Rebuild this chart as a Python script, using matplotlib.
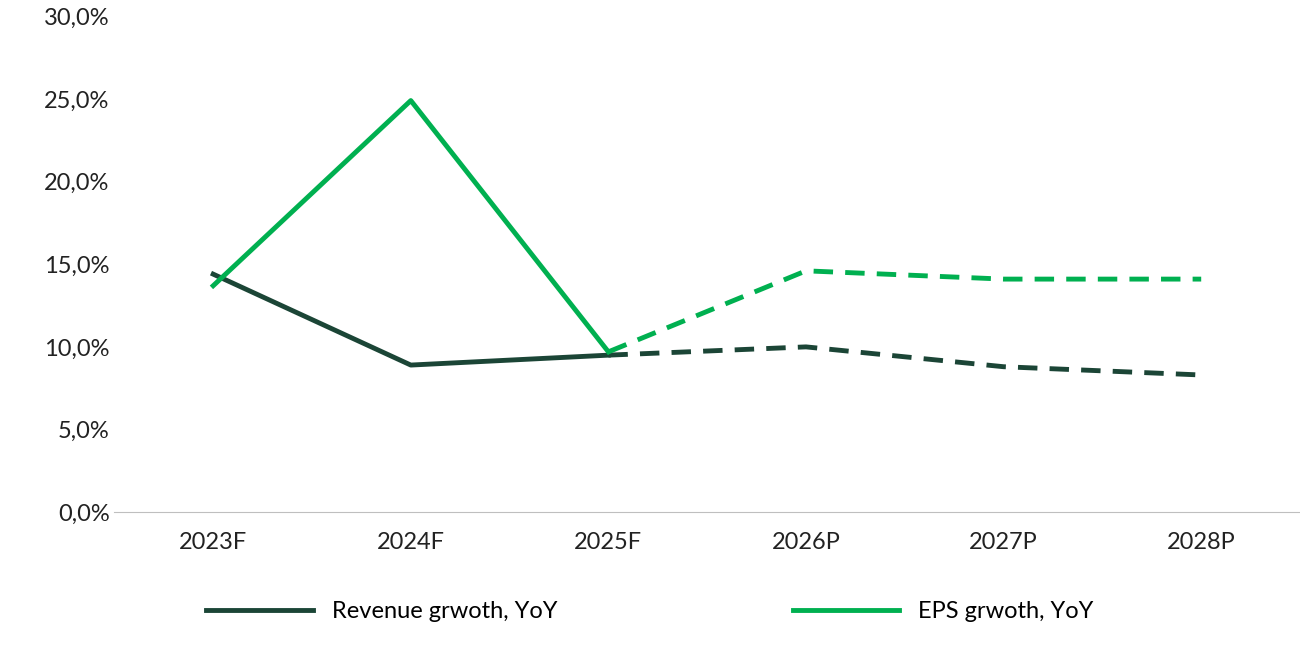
import matplotlib.pyplot as plt
from matplotlib.ticker import FuncFormatter

years = ["2023F", "2024F", "2025F", "2026P", "2027P", "2028P"]
revenue = [14.4, 8.9, 9.5, 10.0, 8.8, 8.3]
eps = [13.7, 24.9, 9.7, 14.6, 14.1, 14.1]

dark = "#1b4536"
green = "#00b050"

plt.rcParams['font.family'] = ['Lato', 'DejaVu Sans']
fig = plt.figure(figsize=(13, 6.5), dpi=100)
ax = fig.add_axes([0.088, 0.212, 0.912, 0.763])
x = list(range(len(years)))

# actual (solid) up to 2025F, then projection (dashed)
ax.plot(x[:3], revenue[:3], color=dark, lw=3.5, label="Revenue grwoth, YoY")
ax.plot(x[2:], revenue[2:], color=dark, lw=3.5, ls=(0, (4, 2.5)))
ax.plot(x[:3], eps[:3], color=green, lw=3.5, label="EPS grwoth, YoY")
ax.plot(x[2:], eps[2:], color=green, lw=3.5, ls=(0, (4, 2.5)))

ax.set_xlim(-0.5, 5.5)
ax.set_ylim(0, 30)
ax.set_yticks(range(0, 31, 5))
ax.yaxis.set_major_formatter(FuncFormatter(lambda v, p: f"{v:.1f}%".replace(".", ",")))
ax.set_xticks(x)
ax.set_xticklabels(years)
ax.tick_params(length=0, labelsize=17, colors="#222222")
ax.tick_params(axis="x", pad=14)
for s in ["top", "right", "left"]:
    ax.spines[s].set_visible(False)
ax.spines["bottom"].set_color("#bfbfbf")

fig.legend(loc="lower center", bbox_to_anchor=(0.5, 0.01), ncol=2, frameon=False,
           fontsize=17, handlelength=4.5, columnspacing=10)
fig.savefig("out.png")
